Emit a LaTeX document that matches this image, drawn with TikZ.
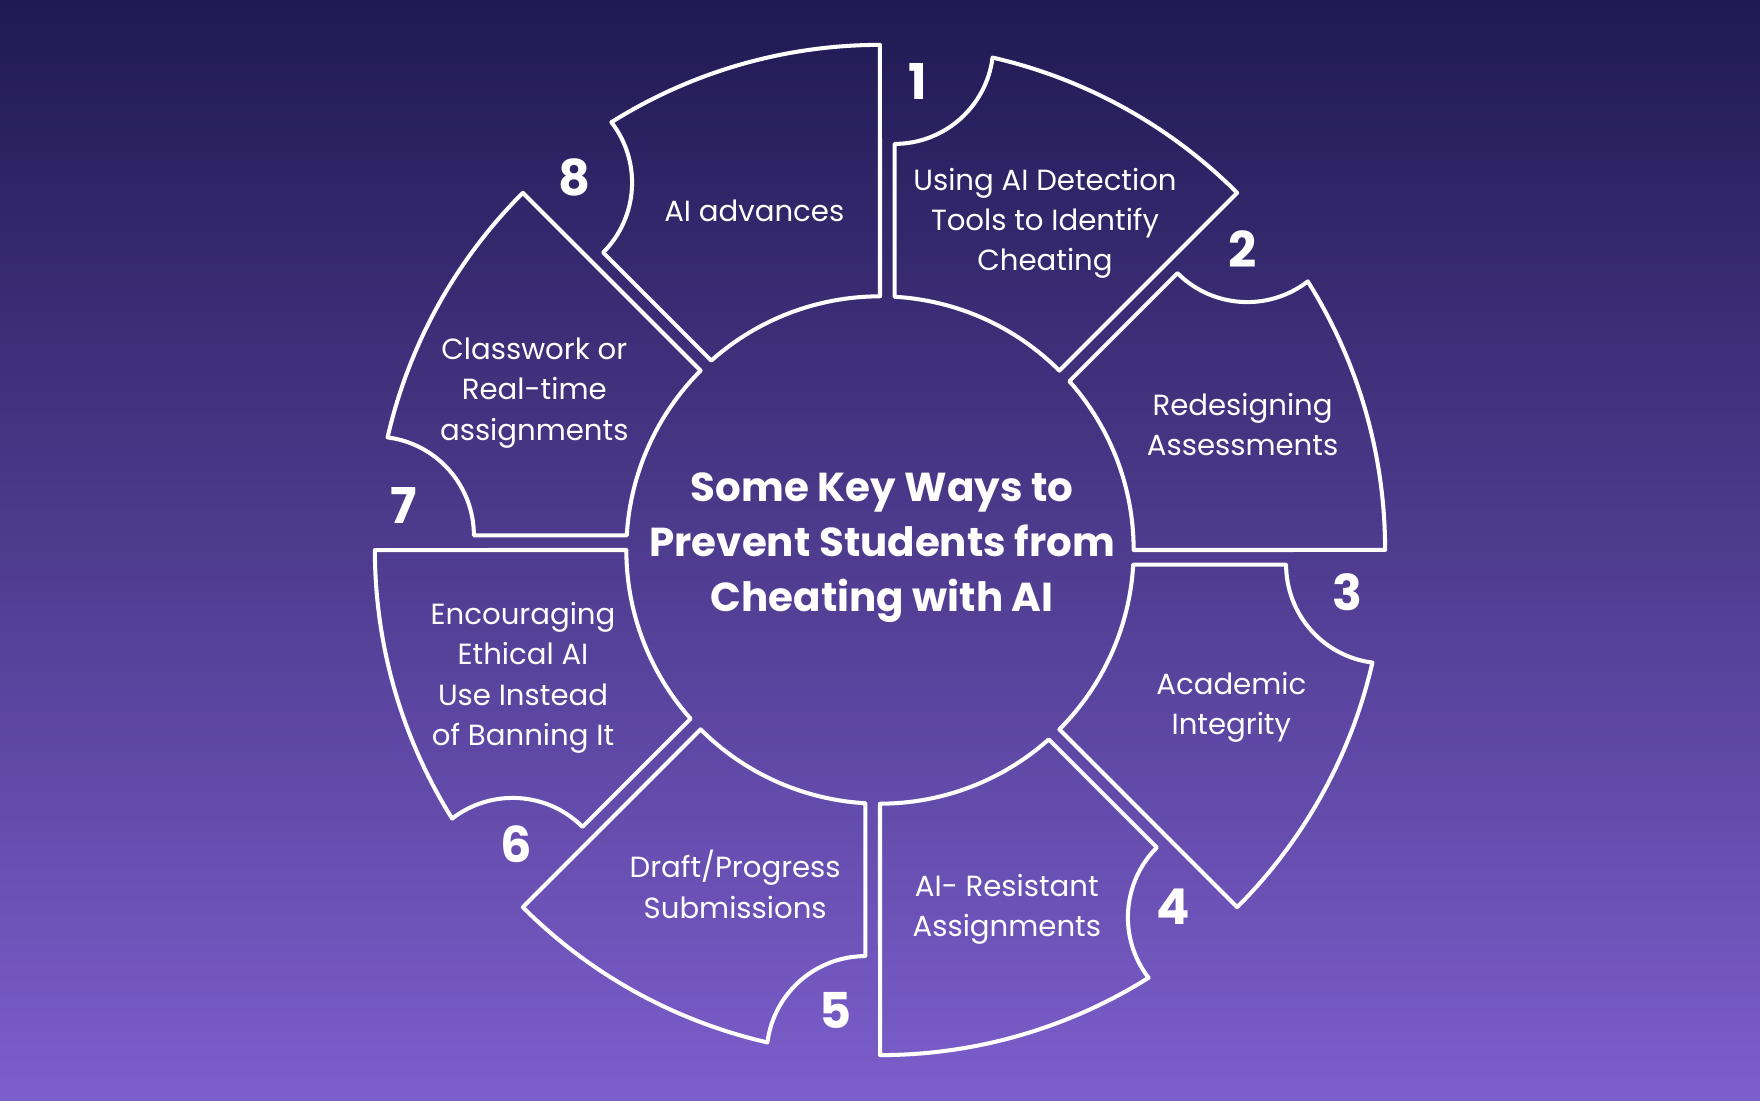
\documentclass[tikz,border=0pt]{standalone}
\usepackage{fontspec}
\setmainfont{Poppins}
\begin{document}
\begin{tikzpicture}[x=1pt,y=1pt,
  seg/.style={draw=white,line width=3.6pt,line join=round,line cap=round},
  lbl/.style={text=white,align=center,font=\fontsize{26}{36}\selectfont},
  num/.style={text=white,font=\fontsize{44}{44}\selectfont\bfseries}]
\definecolor{bgtop}{RGB}{32,25,82}
\definecolor{bgbot}{RGB}{124,94,204}
\shade[top color=bgtop,bottom color=bgbot] (-784,-490) rectangle (784,490);
\useasboundingbox (-784,-490) rectangle (784,490);
\foreach \a/\n in {90/a,45/b,0/c,-45/d,-90/e,-135/f,180/g,135/h}{
  \begin{scope}[rotate=\a-90]
    \draw[seg] (13,225.6) -- (13,361.8)
      arc[start angle=-90,end angle=-7.25,radius=88]
      arc[start angle=77.12,end angle=45,radius=450]
      -- (45:226)
      arc[start angle=45,end angle=86.70,radius=226] -- cycle;
  \end{scope}
}
\node[num] (n1) at (34,417) {1};
\node[num] (n2) at (323,268) {2};
\node[num] (n3) at (416,-38) {3};
\node[num] (n4) at (261,-318) {4};
\node[num] (n5) at (-40,-410) {5};
\node[num] (n6) at (-324,-262) {6};
\node[num] (n7) at (-424,40) {7};
\node[num] (n8) at (-272,332) {8};
\node[lbl] (t8) at (-112,302) {AI advances};
\node[lbl] (t1) at (147,291) {Using AI Detection\\Tools to Identify\\Cheating};
\node[lbl] (t2) at (323,112) {Redesigning\\Assessments};
\node[lbl] (t3) at (313,-140) {Academic\\Integrity};
\node[lbl] (t4) at (113,-320) {AI- Resistant\\Assignments};
\node[lbl] (t5) at (-129,-298) {Draft/Progress\\Submissions};
\node[lbl] (t6) at (-318,-114) {Encouraging\\Ethical AI\\Use Instead\\of Banning It};
\node[lbl] (t7) at (-308,140) {Classwork or\\Real-time\\assignments};
\node[text=white,align=center,font=\fontsize{36}{49}\selectfont\bfseries] (title) at (2,2)
  {Some Key Ways to\\Prevent Students from\\Cheating with AI};
\end{tikzpicture}
\end{document}
